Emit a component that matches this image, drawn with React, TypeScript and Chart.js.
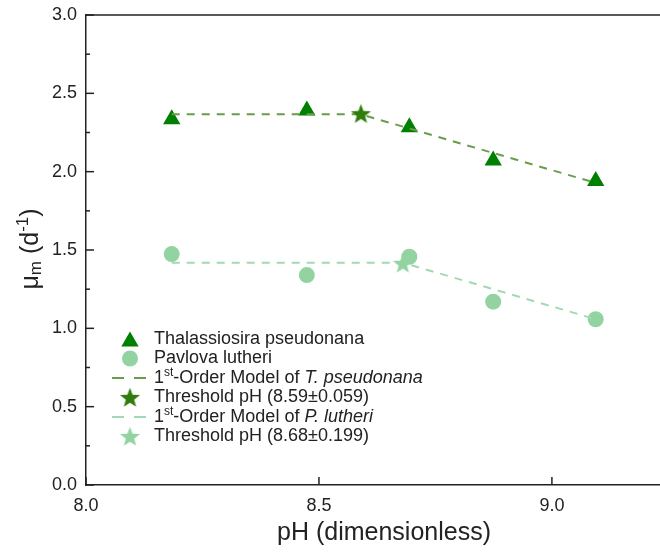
import React, { useEffect, useRef } from "react";
import { Chart, registerables } from "chart.js";

Chart.register(...registerables);

// ---- data ----
const phValues = [8.184, 8.474, 8.694, 8.874, 9.094];
const thalassiosiraMu = [2.335, 2.39, 2.283, 2.072, 1.94];
const pavlovaMu = [1.474, 1.34, 1.457, 1.17, 1.058];
const tModelX = [8.184, 8.59, 9.094];
const tModelY = [2.366, 2.366, 1.928];
const pModelX = [8.184, 8.68, 9.094];
const pModelY = [1.419, 1.419, 1.058];
const tThresholdX = [8.59];
const tThresholdY = [2.37];
const pThresholdX = [8.68];
const pThresholdY = [1.415];
const xTicks = [8.0, 8.5, 9.0];
const yTicks = [0, 0.5, 1.0, 1.5, 2.0, 2.5, 3.0];
const yMinorTicks = [0.25, 0.75, 1.25, 1.75, 2.25, 2.75];
const seriesLabels = [
  "Thalassiosira pseudonana",
  "Pavlova lutheri",
  "1st-Order Model of T. pseudonana",
  "Threshold pH (8.59±0.059)",
  "1st-Order Model of P. lutheri",
  "Threshold pH (8.68±0.199)",
];
type Seg = { t: string; sup?: boolean; sub?: boolean; italic?: boolean };
const legendRich: Seg[][] = [
  [{ t: "Thalassiosira pseudonana" }],
  [{ t: "Pavlova lutheri" }],
  [{ t: "1" }, { t: "st", sup: true }, { t: "-Order Model of " }, { t: "T. pseudonana", italic: true }],
  [{ t: "Threshold pH (8.59±0.059)" }],
  [{ t: "1" }, { t: "st", sup: true }, { t: "-Order Model of " }, { t: "P. lutheri", italic: true }],
  [{ t: "Threshold pH (8.68±0.199)" }],
];
const xTitle: Seg[] = [{ t: "pH (dimensionless)" }];
const yTitle: Seg[] = [{ t: "μ" }, { t: "m", sub: true }, { t: " (d" }, { t: "-1", sup: true }, { t: ")" }];

// ---- styles ----
const FONT = "'Liberation Sans', Arial, sans-serif";
const TRI = "#008000";
const CIRC = "#93d3a2";
const TLINE = "#6a9c4c";
const PLINE = "#a3d9b2";
const TSTAR = "#2f7d0c";
const PSTAR = "#93d3a2";
const AXIS = "#222";
// canvas is a little wider than the 660px view: Chart.js keeps a right margin for the last tick label
const CANVAS_W = 671;
const CANVAS_H = 556;

function makeStar(color: string, outer: number, inner: number) {
  const size = Math.ceil(outer * 2 + 2);
  const c = document.createElement("canvas");
  c.width = size;
  c.height = size;
  const g = c.getContext("2d")!;
  g.fillStyle = color;
  g.beginPath();
  for (let i = 0; i < 10; i++) {
    const r = i % 2 === 0 ? outer : inner;
    const ang = -Math.PI / 2 + (i * Math.PI) / 5;
    const px = size / 2 + r * Math.cos(ang);
    const py = size / 2 + r * Math.sin(ang) + 0.8;
    if (i === 0) g.moveTo(px, py);
    else g.lineTo(px, py);
  }
  g.closePath();
  g.fill();
  return c;
}

function richWidth(ctx: CanvasRenderingContext2D, segs: Seg[], size: number) {
  let w = 0;
  for (const s of segs) {
    const fs = s.sup || s.sub ? Math.round(size * 0.68) : size;
    ctx.font = `${s.italic ? "italic " : ""}${fs}px ${FONT}`;
    w += ctx.measureText(s.t).width;
  }
  return w;
}

function drawRich(ctx: CanvasRenderingContext2D, segs: Seg[], x: number, y: number, size: number) {
  let cx = x;
  ctx.textBaseline = "middle";
  ctx.textAlign = "left";
  for (const s of segs) {
    const fs = s.sup || s.sub ? Math.round(size * 0.68) : size;
    ctx.font = `${s.italic ? "italic " : ""}${fs}px ${FONT}`;
    let dy = 0;
    if (s.sup) dy = -size * 0.3;
    if (s.sub) dy = size * 0.22;
    ctx.fillText(s.t, cx, y + dy);
    cx += ctx.measureText(s.t).width;
  }
}

const decorPlugin = {
  id: "decor",
  afterDraw(chart: any) {
    const { ctx, chartArea: a, scales } = chart;
    const x = scales.x;
    const y = scales.y;
    ctx.save();
    ctx.strokeStyle = AXIS;
    ctx.lineWidth = 1.5;
    const seg = (x1: number, y1: number, x2: number, y2: number) => {
      ctx.beginPath();
      ctx.moveTo(x1, y1);
      ctx.lineTo(x2, y2);
      ctx.stroke();
    };
    // top frame
    seg(a.left - 0.75, a.top, a.right, a.top);
    // inward ticks
    xTicks.forEach((v) => {
      const px = x.getPixelForValue(v);
      seg(px, a.bottom, px, a.bottom - 8);
    });
    yTicks.forEach((v) => {
      const py = y.getPixelForValue(v);
      seg(a.left, py, a.left + 8, py);
    });
    yMinorTicks.forEach((v) => {
      const py = y.getPixelForValue(v);
      seg(a.left, py, a.left + 4, py);
    });

    // legend
    const ds = chart.data.datasets;
    const rowY0 = 339;
    const rowStep = 19.5;
    const mx = 130;
    ds.forEach((d: any, i: number) => {
      const ry = rowY0 + i * rowStep;
      ctx.save();
      if (d.showLine) {
        ctx.strokeStyle = d.borderColor;
        ctx.lineWidth = d.borderWidth;
        ctx.setLineDash([12, 10]);
        seg(112, ry, 146, ry);
      } else if (d.pointStyle === "triangle") {
        const r = d.pointRadius;
        ctx.fillStyle = d.backgroundColor;
        ctx.beginPath();
        const cy = ry + r * 0.25;
        for (let k = 0; k < 3; k++) {
          const ang = (k * 2 * Math.PI) / 3;
          const px = mx + Math.sin(ang) * r;
          const py = cy - Math.cos(ang) * r;
          if (k === 0) ctx.moveTo(px, py);
          else ctx.lineTo(px, py);
        }
        ctx.closePath();
        ctx.fill();
      } else if (d.pointStyle === "circle") {
        ctx.fillStyle = d.backgroundColor;
        ctx.beginPath();
        ctx.arc(mx, ry, d.pointRadius, 0, Math.PI * 2);
        ctx.fill();
      } else if (d.pointStyle && d.pointStyle.width) {
        const img = d.pointStyle;
        ctx.drawImage(img, mx - img.width / 2, ry - img.height / 2);
      }
      ctx.restore();
      ctx.fillStyle = "#222";
      drawRich(ctx, legendRich[i], 154, ry, 18);
    });

    // axis titles
    ctx.fillStyle = "#222";
    const xw = richWidth(ctx, xTitle, 25);
    drawRich(ctx, xTitle, 384 - xw / 2, 533, 25);
    ctx.save();
    ctx.translate(31, 249);
    ctx.rotate(-Math.PI / 2);
    const yw = richWidth(ctx, yTitle, 25);
    drawRich(ctx, yTitle, -yw / 2, 0, 25);
    ctx.restore();

    ctx.restore();
  },
};

export default function App() {
  const ref = useRef<HTMLCanvasElement>(null);
  useEffect(() => {
    if (!ref.current) return;
    const tStar = makeStar(TSTAR, 10.5, 4.4);
    const pStar = makeStar(PSTAR, 10.5, 4.4);
    const pts = (xs: number[], ys: number[]) => xs.map((v, i) => ({ x: v, y: ys[i] }));
    const chart = new Chart(ref.current, {
      type: "scatter",
      data: {
        datasets: [
          {
            label: seriesLabels[0],
            data: pts(phValues, thalassiosiraMu),
            pointStyle: "triangle",
            pointRadius: 10,
            backgroundColor: TRI,
            borderColor: TRI,
            borderWidth: 0,
            showLine: false,
            order: 4,
          },
          {
            label: seriesLabels[1],
            data: pts(phValues, pavlovaMu),
            pointStyle: "circle",
            pointRadius: 8,
            backgroundColor: CIRC,
            borderColor: CIRC,
            borderWidth: 0,
            showLine: false,
            order: 4,
          },
          {
            label: seriesLabels[2],
            data: pts(tModelX, tModelY),
            showLine: true,
            pointRadius: 0,
            borderColor: TLINE,
            borderWidth: 2,
            borderDash: [8, 7],
            fill: false,
            order: 2,
          },
          {
            label: seriesLabels[3],
            data: pts(tThresholdX, tThresholdY),
            pointStyle: tStar as any,
            pointRadius: 10,
            backgroundColor: TSTAR,
            borderColor: TSTAR,
            showLine: false,
            order: 1,
          },
          {
            label: seriesLabels[4],
            data: pts(pModelX, pModelY),
            showLine: true,
            pointRadius: 0,
            borderColor: PLINE,
            borderWidth: 2,
            borderDash: [8, 7],
            fill: false,
            order: 2,
          },
          {
            label: seriesLabels[5],
            data: pts(pThresholdX, pThresholdY),
            pointStyle: pStar as any,
            pointRadius: 10,
            backgroundColor: PSTAR,
            borderColor: PSTAR,
            showLine: false,
            order: 1,
          },
        ] as any,
      },
      options: {
        animation: false,
        responsive: false,
        layout: { padding: { left: 0, right: 0, top: 15, bottom: 0 } },
        plugins: { legend: { display: false }, tooltip: { enabled: false } },
        scales: {
          x: {
            type: "linear",
            min: 8.0,
            max: 9.232,
            grid: { display: false, drawTicks: false },
            border: { display: true, color: AXIS, width: 1.5 },
            ticks: {
              padding: 10,
              color: "#222",
              font: { size: 18, family: FONT },
              callback: (v: any) => Number(v).toFixed(1),
            },
            afterBuildTicks: (s: any) => {
              s.ticks = xTicks.map((v) => ({ value: v }));
            },
            afterFit: (s: any) => {
              s.height = 71;
            },
          },
          y: {
            type: "linear",
            min: 0,
            max: 3,
            grid: { display: false, drawTicks: false },
            border: { display: true, color: AXIS, width: 1.5 },
            ticks: {
              padding: 9,
              color: "#222",
              font: { size: 18, family: FONT },
              callback: (v: any) => Number(v).toFixed(1),
            },
            afterBuildTicks: (s: any) => {
              s.ticks = yTicks.map((v) => ({ value: v }));
            },
            afterFit: (s: any) => {
              s.width = 86;
              s.paddingTop = 0;
              s.paddingBottom = 0;
            },
          },
        },
      } as any,
      plugins: [decorPlugin],
    });
    return () => chart.destroy();
  }, []);
  return (
    <div style={{ position: "fixed", left: 0, top: 0, width: 660, height: 556, overflow: "hidden", background: "#fff" }}>
      <canvas ref={ref} width={CANVAS_W} height={CANVAS_H} style={{ display: "block", width: CANVAS_W, height: CANVAS_H }} />
    </div>
  );
}
